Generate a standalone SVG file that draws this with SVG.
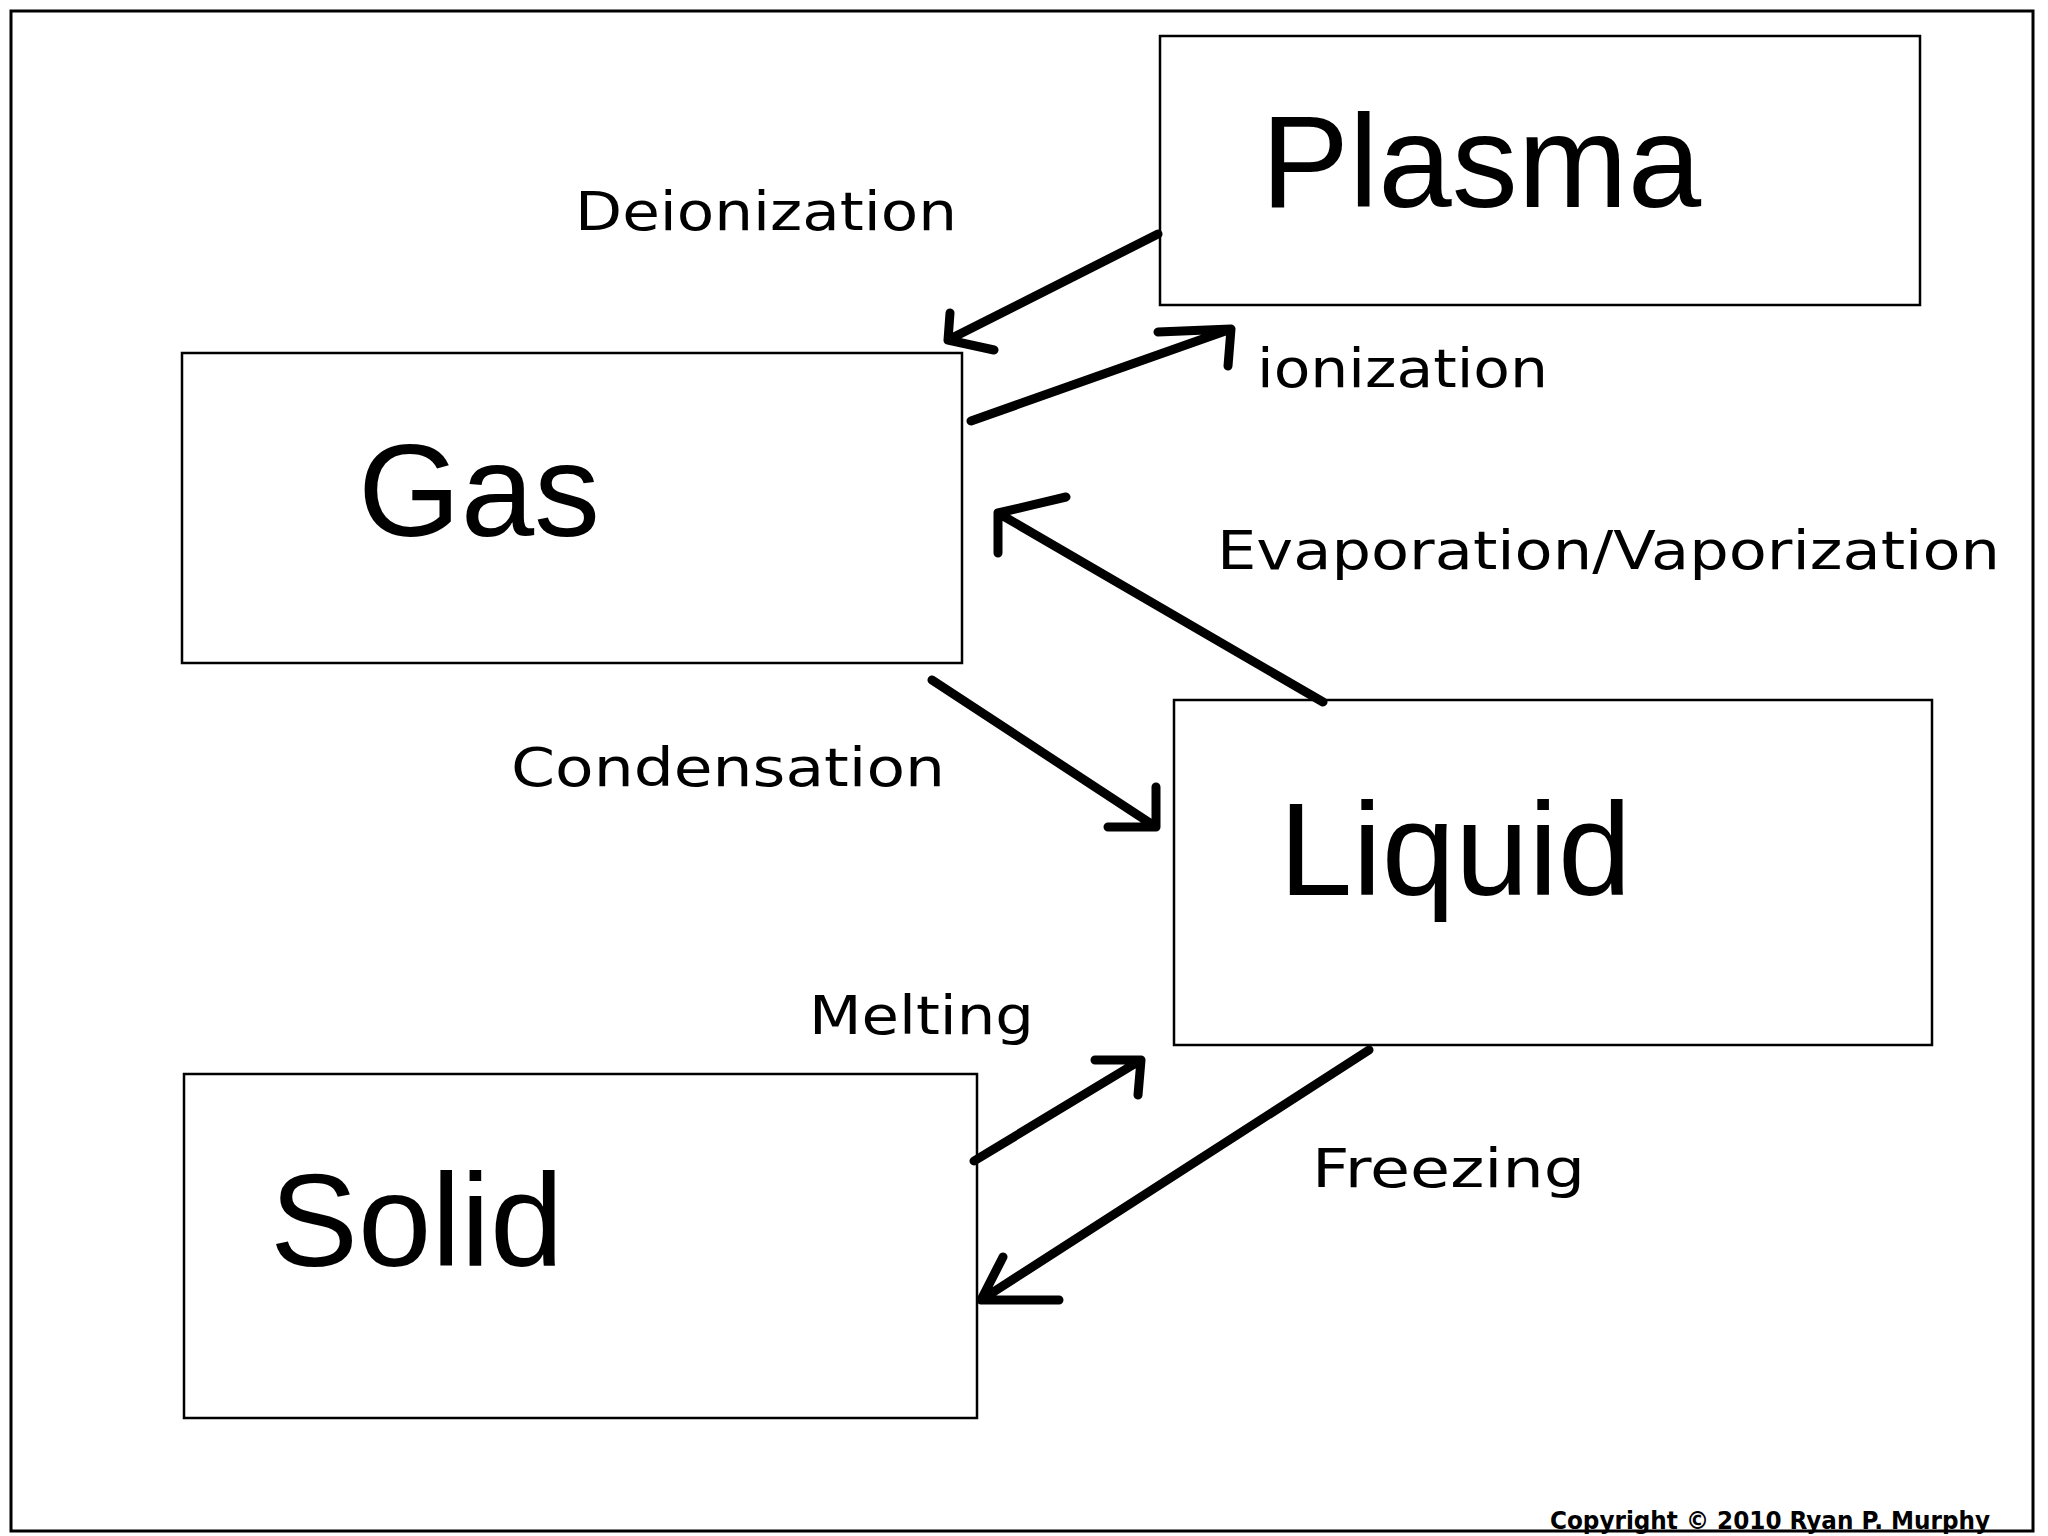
<svg xmlns="http://www.w3.org/2000/svg" width="2048" height="1536" viewBox="0 0 2048 1536">
<style>
.box{fill:#fff;stroke:#000;stroke-width:2.5}
.big{font-family:"Liberation Sans",Arial,sans-serif;font-size:132px;fill:#000}
.lbl{font-family:"DejaVu Sans","Liberation Sans",sans-serif;font-size:54px;fill:#000}
.arr{fill:none;stroke:#000;stroke-width:9;stroke-linecap:round;stroke-linejoin:round}
</style>
<rect x="0" y="0" width="2048" height="1536" fill="#fff"/>
<rect x="11" y="11" width="2022" height="1520" fill="none" stroke="#000" stroke-width="3"/>
<g id="plasma"><rect class="box" x="1160" y="36" width="760" height="269"/><text class="big" x="1261" y="207">Plasma</text></g>
<g id="gas"><rect class="box" x="182" y="353" width="780" height="310"/><text class="big" x="358" y="536">Gas</text></g>
<g id="liquid"><rect class="box" x="1174" y="700" width="758" height="345"/><text class="big" x="1279" y="895">Liquid</text></g>
<g id="solid"><rect class="box" x="184" y="1074" width="793" height="344"/><text class="big" x="270" y="1266">Solid</text></g>
<g id="connectors">
<path class="arr" d="M1158,234 L948,340 M994,350 L948,340 L950,313"/>
<path class="arr" d="M971,421 L1231,329 M1158,332 L1231,329 L1228,366"/>
<path class="arr" d="M1323,702 L998,513 M1066,497 L998,513 L998,553"/>
<path class="arr" d="M932,680 L1156,827 M1156,787 L1156,827 L1108,827"/>
<path class="arr" d="M974,1161 L1141,1060 M1095,1060 L1141,1060 L1138,1095"/>
<path class="arr" d="M1369,1050 L981,1300 M1003,1257 L981,1300 L1059,1300"/>
</g>
<g id="labels">
<text class="lbl" x="575" y="230" textLength="382" lengthAdjust="spacingAndGlyphs">Deionization</text>
<text class="lbl" x="1257" y="387" textLength="291" lengthAdjust="spacingAndGlyphs">ionization</text>
<text class="lbl" x="1217" y="569" textLength="783" lengthAdjust="spacingAndGlyphs">Evaporation/Vaporization</text>
<text class="lbl" x="511" y="786" textLength="434" lengthAdjust="spacingAndGlyphs">Condensation</text>
<text class="lbl" x="809" y="1034" textLength="225" lengthAdjust="spacingAndGlyphs">Melting</text>
<text class="lbl" x="1312" y="1187" textLength="273" lengthAdjust="spacingAndGlyphs">Freezing</text>
<text x="1550" y="1529" textLength="440" lengthAdjust="spacingAndGlyphs" style="font-family:'DejaVu Sans',sans-serif;font-weight:bold;font-size:24px">Copyright © 2010 Ryan P. Murphy</text>
</g>
</svg>
